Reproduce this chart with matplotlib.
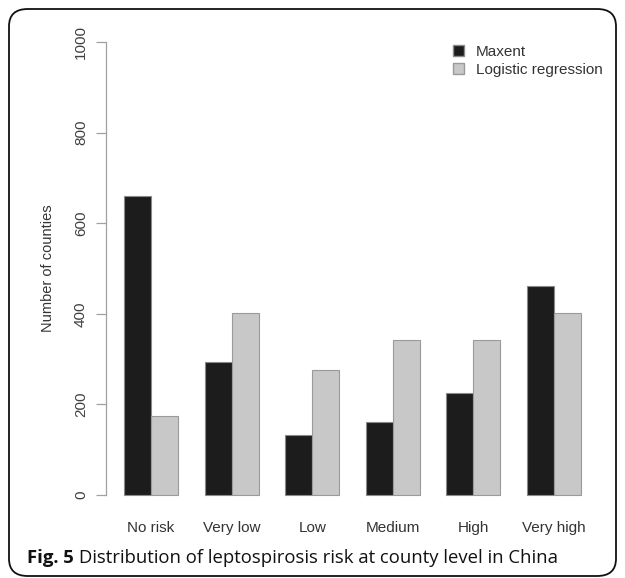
import matplotlib
matplotlib.use("Agg")
import matplotlib.pyplot as plt
from matplotlib.patches import FancyBboxPatch, Patch
import numpy as np

categories = ["No risk", "Very low", "Low", "Medium", "High", "Very high"]
maxent = [660, 294, 133, 160, 225, 462]
logistic = [174, 402, 275, 342, 342, 401]
series_names = ["Maxent", "Logistic regression"]
yticks = [0, 200, 400, 600, 800, 1000]

plt.rcParams["font.family"] = ["Liberation Sans", "DejaVu Sans"]

fig = plt.figure(figsize=(6.25, 5.78), dpi=100)
ax = fig.add_axes([106 / 625, 65 / 578, 493 / 625, 489 / 578])

# R style barplot: bars of width 1, one empty bar between groups
pos = 1 + 3 * np.arange(len(categories))
ax.bar(pos, maxent, width=1, align="edge", color="#1c1c1c", edgecolor="#8a8a8a", linewidth=0.8)
ax.bar(pos + 1, logistic, width=1, align="edge", color="#c8c8c8", edgecolor="#9a9a9a", linewidth=0.8)

ax.set_xlim(0.32, 18.68)
ax.set_ylim(-40, 1040)
for s in ["top", "right", "bottom"]:
    ax.spines[s].set_visible(False)
ax.spines["left"].set_bounds(0, 1000)
ax.spines["left"].set_color("#a0a0a0")
ax.spines["left"].set_linewidth(0.9)

ax.set_yticks(yticks)
ax.set_yticklabels([str(v) for v in yticks], rotation=90, va="center")
ax.tick_params(axis="y", length=7, width=0.9, color="#a0a0a0", labelsize=11,
               labelcolor="#404040", pad=6)
ax.set_xticks(pos + 1)
ax.set_xticklabels(categories)
ax.tick_params(axis="x", length=0, labelsize=11, labelcolor="#333333", pad=6)
ax.set_ylabel("Number of counties", fontsize=10.5, color="#333333", labelpad=14)

handles = [Patch(facecolor="#1c1c1c", edgecolor="#8a8a8a"),
           Patch(facecolor="#c8c8c8", edgecolor="#9a9a9a")]
ax.legend(handles, series_names, frameon=False, fontsize=11, handlelength=0.75,
          handleheight=0.75, handletextpad=0.8, labelspacing=0.25, labelcolor="#333333",
          loc="upper left", bbox_to_anchor=(0.675, 0.985))

# rounded frame and caption
frame = FancyBboxPatch((9 / 625, 2 / 578), 607 / 625, 567 / 578,
                       boxstyle="round,pad=0,rounding_size=0.03",
                       transform=fig.transFigure, fill=False, edgecolor="#111111", linewidth=1.3)
fig.patches.append(frame)

t1 = fig.text(27 / 625, 1 - 558 / 578, "Fig. 5", fontsize=13.3, fontweight="bold",
              family="Open Sans", va="center", color="#111111")
fig.canvas.draw()
bb = t1.get_window_extent()
fig.text((bb.x1 + 5) / 625, 1 - 558 / 578,
         "Distribution of leptospirosis risk at county level in China",
         fontsize=13.3, family="Open Sans", va="center", color="#111111")

fig.savefig("out.png", dpi=100)
